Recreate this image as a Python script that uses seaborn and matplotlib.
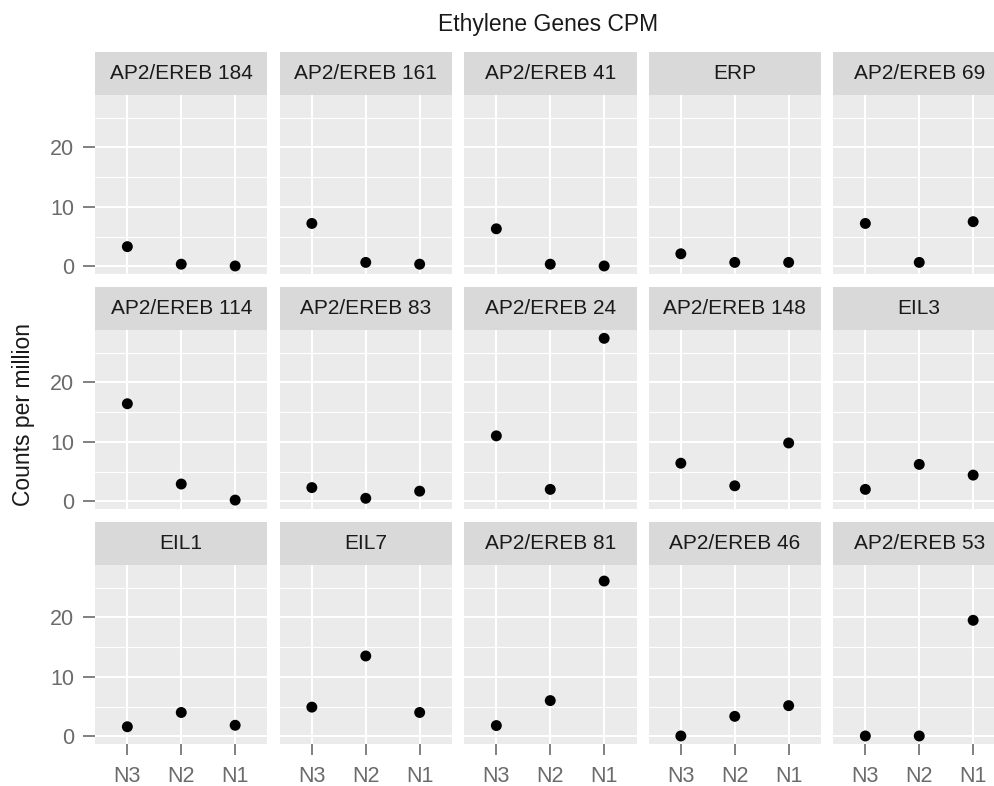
import matplotlib
matplotlib.use("Agg")
import matplotlib.pyplot as plt
from matplotlib.patches import Rectangle
import numpy as np
import pandas as pd
import seaborn as sns

# Gene panels, in facet order (row by row)
genes = [
    "AP2/EREB 184", "AP2/EREB 161", "AP2/EREB 41", "ERP", "AP2/EREB 69",
    "AP2/EREB 114", "AP2/EREB 83", "AP2/EREB 24", "AP2/EREB 148", "EIL3",
    "EIL1", "EIL7", "AP2/EREB 81", "AP2/EREB 46", "AP2/EREB 53",
]
stages = ["N3", "N2", "N1"]

# Counts per million for each gene at N3, N2, N1
cpm_n3 = [3.3, 7.2, 6.3, 2.1, 7.2, 16.4, 2.3, 11.0, 6.4, 2.0, 1.6, 4.9, 1.8, 0.05, 0.05]
cpm_n2 = [0.35, 0.65, 0.35, 0.65, 0.65, 2.9, 0.5, 2.0, 2.6, 6.2, 4.0, 13.5, 6.0, 3.35, 0.05]
cpm_n1 = [0.05, 0.35, 0.05, 0.65, 7.5, 0.2, 1.7, 27.4, 9.8, 4.4, 1.85, 4.0, 26.1, 5.15, 19.5]

y_ticks = [0, 10, 20]
y_minor = [5, 15, 25]

rows = []
for g_name, a, b, c in zip(genes, cpm_n3, cpm_n2, cpm_n1):
    for st, v in zip(stages, (a, b, c)):
        rows.append({"gene": g_name, "stage": st, "cpm": v})
df = pd.DataFrame(rows)
df["stage"] = pd.Categorical(df["stage"], categories=stages, ordered=True)

sns.set_theme(style="white")
plt.rcParams["font.family"] = ["Liberation Sans", "DejaVu Sans"]

W, H = 994, 786
DPI = 100
PANEL_BG = "#EBEBEB"
STRIP_BG = "#D9D9D9"
TICK_COL = "#6B6B6B"

g = sns.relplot(
    data=df, x="stage", y="cpm", col="gene", col_order=genes, col_wrap=5,
    kind="scatter", color="black", s=62, edgecolor="none", linewidth=0,
    height=2.0, aspect=1.0, facet_kws=dict(sharex=True, sharey=True),
)
fig = g.figure
fig.set_size_inches(W / DPI, H / DPI)
fig.set_dpi(DPI)

# panel geometry in pixels
left_px, panel_w, gap_w = 95, 172.5, 12
top_px, panel_h, strip_h, gap_h = 95, 179, 43, 56
right_px = left_px + 5 * panel_w + 4 * gap_w
bottom_px = top_px + 3 * panel_h + 2 * gap_h
fig.subplots_adjust(
    left=left_px / W, right=right_px / W,
    top=1 - top_px / H, bottom=1 - bottom_px / H,
    wspace=gap_w / panel_w, hspace=gap_h / panel_h,
)

g.set_titles("")
g.set_axis_labels("", "")

for i, (ax, name) in enumerate(zip(g.axes.flat, genes)):
    r, c = divmod(i, 5)
    ax.set_facecolor(PANEL_BG)
    for sp in ax.spines.values():
        sp.set_visible(False)
    ax.set_xlim(-0.6, 2.6)
    ax.set_ylim(-1.3, 28.8)
    ax.set_xticks(range(len(stages)))
    ax.set_yticks(y_ticks)
    ax.set_yticks(y_minor, minor=True)
    ax.set_axisbelow(True)
    ax.grid(True, which="major", color="white", linewidth=1.5)
    ax.grid(True, which="minor", axis="y", color="white", linewidth=0.8)
    ax.tick_params(axis="both", which="minor", length=0)

    if r == 2:
        ax.set_xticklabels(stages)
        ax.tick_params(axis="x", which="major", bottom=True, length=8, width=1.2,
                       color=TICK_COL, labelsize=15.5, labelcolor=TICK_COL, pad=8,
                       labelbottom=True)
    else:
        ax.tick_params(axis="x", which="major", bottom=False, length=0,
                       labelbottom=False)
    if c == 0:
        ax.set_yticklabels([str(t) for t in y_ticks])
        ax.tick_params(axis="y", which="major", left=True, length=9, width=1.2,
                       color=TICK_COL, labelsize=15.5, labelcolor=TICK_COL, pad=6,
                       labelleft=True)
    else:
        ax.tick_params(axis="y", which="major", left=False, length=0,
                       labelleft=False)

    # facet strip above the panel
    sh = strip_h / panel_h
    ax.add_patch(Rectangle((0, 1), 1, sh, transform=ax.transAxes,
                           facecolor=STRIP_BG, edgecolor="none", clip_on=False))
    ax.text(0.5, 1 + sh / 2, name, transform=ax.transAxes, ha="center",
            va="center", fontsize=15, color="#1A1A1A")

fig.text(548 / W, 1 - 24 / H, "Ethylene Genes CPM", ha="center", va="center",
         fontsize=16.5, color="#1A1A1A")
fig.text(24 / W, 1 - 415 / H, "Counts per million", ha="center", va="center",
         rotation=90, fontsize=16.5, color="#1A1A1A")

fig.savefig("out.png", dpi=DPI, facecolor="white")
